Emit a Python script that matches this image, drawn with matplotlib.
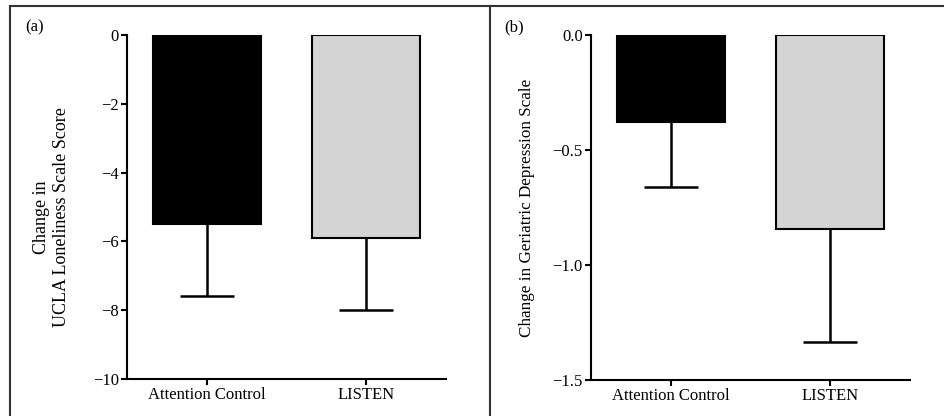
import numpy as np
import matplotlib
matplotlib.use("Agg")
import matplotlib.pyplot as plt
from matplotlib.lines import Line2D
from matplotlib.ticker import FuncFormatter

groups = ["Attention Control", "LISTEN"]
colors = ["black", "#d4d4d4"]

# (a) UCLA loneliness
lonely_mean = [-5.5, -5.9]
lonely_err = [2.1, 2.1]
lonely_ticks = [0, -2, -4, -6, -8, -10]

# (b) geriatric depression
gds_mean = [-0.38, -0.845]
gds_err = [0.28, 0.49]
gds_ticks = [0.0, -0.5, -1.0, -1.5]

plt.rcParams["font.family"] = ["Liberation Serif", "DejaVu Serif"]
plt.rcParams["font.size"] = 12

fig = plt.figure(figsize=(9.44, 4.16), dpi=100)
W, H = 944.0, 416.0


def panel(rect, means, errs, ticks, ylabel, ysize, label_xy, tag, tag_xy, fmt):
    ax = fig.add_axes(rect)
    x = np.arange(len(groups))
    ax.bar(x, means, width=0.68, color=colors, edgecolor="black", linewidth=1.5, zorder=2)
    # lower error bars only (line from bar end down, with a cap)
    lo = np.array(means) - np.array(errs)
    ax.vlines(x, lo, means, color="black", linewidth=1.8, zorder=1)
    ax.hlines(lo, x - 0.17, x + 0.17, color="black", linewidth=1.8, zorder=1)
    ax.set_xlim(-0.505, 1.505)
    ax.set_ylim(min(ticks), max(ticks))
    ax.set_yticks(ticks)
    ax.yaxis.set_major_formatter(FuncFormatter(lambda v, p: (fmt % v).replace("-", "\u2212")))
    ax.set_xticks(x)
    ax.set_xticklabels(groups)
    for s in ("top", "right"):
        ax.spines[s].set_visible(False)
    for s in ("left", "bottom"):
        ax.spines[s].set_linewidth(1.5)
    ax.tick_params(width=1.5, length=4, pad=2)
    ax.set_ylabel(ylabel, fontsize=ysize)
    ax.yaxis.set_label_coords(*label_xy)
    fig.text(tag_xy[0] / W, 1 - tag_xy[1] / H, tag, ha="left", va="center")
    return ax


panel([127 / W, 1 - 379 / H, 319 / W, 344 / H], lonely_mean, lonely_err, lonely_ticks,
      "Change in\nUCLA Loneliness Scale Score", 13, (-0.18, 0.47), "(a)", (25, 27), "%g")
panel([591 / W, 1 - 380 / H, 319 / W, 345 / H], gds_mean, gds_err, gds_ticks,
      "Change in Geriatric Depression Scale", 12.3, (-0.174, 0.5), "(b)", (504, 27), "%.1f")

# panel frame lines
for xs, ys in [((10, W), (6, 6)), ((10, 10), (6, H)), ((490, 490), (6, H))]:
    fig.add_artist(Line2D([v / W for v in xs], [1 - v / H for v in ys],
                          color="#333333", linewidth=1.5))

fig.savefig("out.png", dpi=100)
